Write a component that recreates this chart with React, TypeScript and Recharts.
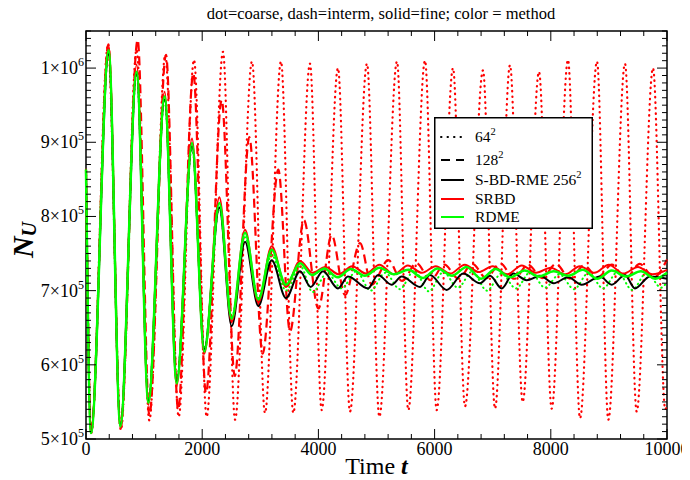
import React from 'react';
import { LineChart, Line, XAxis, YAxis, ReferenceArea, Legend } from 'recharts';

// ---------- data ----------
const xTicks = [0, 400, 800, 1200, 1600, 2000, 2400, 2800, 3200, 3600, 4000, 4400, 4800, 5200, 5600, 6000, 6400, 6800, 7200, 7600, 8000, 8400, 8800, 9200, 9600, 10000];
const yTicks: number[] = [500000, 510000, 520000, 530000, 540000, 550000, 560000, 570000, 580000, 590000, 600000, 610000, 620000, 630000, 640000, 650000, 660000, 670000, 680000, 690000, 700000, 710000, 720000, 730000, 740000, 750000, 760000, 770000, 780000, 790000, 800000, 810000, 820000, 830000, 840000, 850000, 860000, 870000, 880000, 890000, 900000, 910000, 920000, 930000, 940000, 950000, 960000, 970000, 980000, 990000, 1000000, 1010000, 1020000, 1030000, 1040000, 1050000];

// SRBD 64^2 (coarse, dotted red)
const tSrbd64 = [0, 90, 377, 600, 871, 1090, 1365, 1595, 1859, 2077, 2358, 2565, 2857, 3081, 3356, 3568, 3855, 4056, 4337, 4544, 4836, 5049, 5353, 5547, 5835, 6036, 6317, 6523, 6833, 7040, 7298, 7516, 7797, 8015, 8296, 8503, 8795, 8990, 9277, 9478, 9759, 9970, 10000];
const vSrbd64 = [863000, 508000, 1030000, 512000, 1025000, 525000, 1018000, 530000, 1011000, 530000, 1022000, 526000, 1009000, 535000, 1009000, 535000, 1006000, 539000, 1000000, 537000, 1006000, 530000, 1009000, 539000, 1010000, 539000, 1000000, 544000, 997000, 541000, 1004000, 550000, 995000, 541000, 1011000, 528000, 1009000, 526000, 1006000, 537000, 1000000, 540000, 546000];

// SRBD 128^2 (intermediate, dashed red)
const tSrbd128 = [0, 88, 385, 595, 889, 1090, 1377, 1585, 1847, 2065, 2335, 2560, 2811, 3040, 3310, 3511, 3750, 3999, 4229, 4458, 4716, 4917, 5203, 5440, 5690, 5930, 6170, 6410, 6650, 6890, 7130, 7370, 7610, 7850, 8090, 8330, 8570, 8810, 9050, 9290, 9530, 9770, 10000];
const vSrbd128 = [863000, 509000, 1032000, 514000, 1038000, 532000, 1018000, 540000, 993000, 562000, 957000, 585000, 907000, 615000, 863000, 645000, 795000, 676000, 775000, 694000, 764000, 708000, 741000, 713000, 737000, 714000, 735000, 716000, 736000, 717000, 737000, 716000, 735000, 717000, 736000, 716000, 734000, 718000, 735000, 716000, 736000, 718000, 742000];

// RDME 64^2 (coarse, dotted green)
const tRdme64 = [0, 86, 390, 591, 872, 1073, 1354, 1561, 1825, 2036, 2295, 2507, 2737, 2966, 3196, 3442, 3690, 3900, 4150, 4400, 4650, 4900, 5150, 5400, 5650, 5900, 6150, 6400, 6650, 6900, 7150, 7400, 7650, 7900, 8150, 8400, 8650, 8900, 9150, 9400, 9650, 9900, 10000];
const vRdme64 = [863000, 508000, 1022000, 519000, 993000, 552000, 958000, 580000, 893000, 622000, 812000, 664000, 772000, 690000, 748000, 700000, 733000, 698000, 724000, 703000, 726000, 700000, 724000, 702000, 727000, 699000, 725000, 704000, 726000, 700000, 723000, 703000, 725000, 704000, 722000, 702000, 724000, 703000, 725000, 701000, 724000, 704000, 712000];

// S-BD-RME 256^2 (fine, solid black)
const tSbd256 = [0, 86, 390, 591, 872, 1073, 1354, 1561, 1825, 2036, 2295, 2507, 2737, 2966, 3196, 3442, 3683, 3867, 4079, 4337, 4509, 4854, 5026, 5261, 5433, 5749, 5921, 6208, 6494, 6781, 6954, 7155, 7355, 7585, 7814, 8050, 8300, 8532, 8847, 9048, 9277, 9449, 9707, 10000];
const vSbd256 = [863000, 509000, 1019000, 518000, 992000, 551000, 958000, 578000, 895000, 621000, 812000, 652000, 766000, 679000, 741000, 690000, 726000, 705000, 726000, 703000, 719000, 703000, 721000, 708000, 719000, 705000, 721000, 701000, 723000, 710000, 720000, 703000, 723000, 714000, 720000, 710000, 718000, 708000, 719000, 708000, 721000, 703000, 719000, 716000];

// SRBD 256^2 (fine, solid red)
const tSrbd256 = [0, 86, 390, 591, 872, 1073, 1354, 1561, 1825, 2036, 2295, 2507, 2737, 2966, 3196, 3442, 3683, 3900, 4120, 4350, 4580, 4820, 5050, 5300, 5540, 5780, 6020, 6270, 6520, 6760, 7000, 7250, 7500, 7750, 8000, 8250, 8500, 8750, 9000, 9250, 9500, 9750, 10000];
const vSrbd256 = [863000, 510000, 1031000, 515000, 1005000, 546000, 968000, 572000, 905000, 615000, 826000, 658000, 782000, 684000, 760000, 705000, 740000, 724000, 732000, 722000, 733000, 723000, 735000, 722000, 734000, 724000, 733000, 723000, 735000, 725000, 733000, 722000, 734000, 724000, 731000, 722000, 733000, 724000, 735000, 723000, 732000, 722000, 728000];

// RDME 256^2 (fine, solid green)
const tRdme256 = [0, 86, 390, 591, 872, 1073, 1354, 1561, 1825, 2036, 2295, 2507, 2737, 2966, 3196, 3442, 3683, 3890, 4100, 4330, 4560, 4800, 5050, 5300, 5550, 5800, 6050, 6300, 6550, 6800, 7050, 7300, 7550, 7800, 8050, 8300, 8550, 8800, 9050, 9300, 9550, 9800, 10000];
const vRdme256 = [863000, 508000, 1024000, 517000, 995000, 549000, 962000, 575000, 899000, 618000, 818000, 662000, 778000, 688000, 755000, 708000, 737000, 721000, 730000, 718000, 729000, 720000, 731000, 722000, 728000, 717000, 730000, 720000, 732000, 716000, 729000, 718000, 727000, 719000, 726000, 720000, 728000, 716000, 727000, 719000, 726000, 716000, 724000];

const legendLabels = [
  { text: '64', sup: '2' },
  { text: '128', sup: '2' },
  { text: 'S-BD-RME 256', sup: '2' },
  { text: 'SRBD', sup: '' },
  { text: 'RDME', sup: '' },
];

// ---------- layout (page coordinates; container shifted over body margin) ----------
const W = 690;
const H = 480;
const PLOT_LEFT = 86;
const PLOT_TOP = 31;
const PLOT_RIGHT = 667;
const PLOT_BOTTOM = 439;
const FONT = '"Liberation Serif", "Times New Roman", Times, serif';

const toData = (ts: number[], vs: number[]) => ts.map((t, i) => ({ t, v: vs[i] }));

const XTick = (props: any) => {
  const { x, y, payload } = props;
  const v = payload.value as number;
  const major = v % 2000 === 0;
  const len = major ? 10 : 5;
  return (
    <g>
      <line x1={x} y1={y} x2={x} y2={y - len} stroke="#000" strokeWidth={1} />
      <line x1={x} y1={PLOT_TOP} x2={x} y2={PLOT_TOP + len} stroke="#000" strokeWidth={1} />
      {major && (
        <text x={x} y={y + 16} textAnchor="middle" fontFamily={FONT} fontSize={18} fill="#000">
          {v}
        </text>
      )}
    </g>
  );
};

const YTick = (props: any) => {
  const { x, y, payload } = props;
  const v = payload.value as number;
  const major = v % 100000 === 0;
  const len = major ? 10 : 5;
  const exp = v >= 1000000 ? 6 : 5;
  const mant = Math.round(v / Math.pow(10, exp));
  return (
    <g>
      <line x1={x} y1={y} x2={x + len} y2={y} stroke="#000" strokeWidth={1} />
      <line x1={PLOT_RIGHT} y1={y} x2={PLOT_RIGHT - len} y2={y} stroke="#000" strokeWidth={1} />
      {major && (
        <text x={x - 2} y={y + 6} textAnchor="end" fontFamily={FONT} fontSize={18} fill="#000">
          {mant}×10
          <tspan dy={-8} fontSize={12}>{exp}</tspan>
        </text>
      )}
    </g>
  );
};

const rowY = [20, 43, 63, 82, 100];

const renderLegend = () => (
  <svg width={159} height={112} style={{ display: 'block' }}>
    <rect x={0.75} y={0.75} width={157.5} height={110.5} fill="#fff" stroke="#000" strokeWidth={1.5} />
    {legendLabels.map((l, i) => {
      const y = rowY[i];
      const stroke = i === 3 ? '#ff0000' : i === 4 ? '#00ff00' : '#000';
      const dash = i === 0 ? '0.5 6' : i === 1 ? '9 6' : undefined;
      return (
        <g key={i}>
          <line x1={7} y1={y} x2={30} y2={y} stroke={stroke} strokeWidth={2}
            strokeDasharray={dash} strokeLinecap={i === 0 ? 'round' : 'butt'} />
          <text x={41} y={y + 5} fontFamily={FONT} fontSize={15.5} fill="#000">
            {l.text}
            {l.sup && <tspan dy={-7} fontSize={10.5}>{l.sup}</tspan>}
          </text>
        </g>
      );
    })}
  </svg>
);

export default function App() {
  return (
    <div style={{ position: 'relative', left: -8, top: -8, width: W, height: H, fontFamily: FONT }}>
      <div style={{ position: 'absolute', left: 0, top: 4, width: 2 * 381, height: 20, textAlign: 'center', fontSize: 16.5, lineHeight: '20px', color: '#000', whiteSpace: 'nowrap', fontFamily: FONT }}>
        dot=coarse, dash=interm, solid=fine; color = method
      </div>
      <LineChart width={W} height={H} margin={{ top: PLOT_TOP, right: W - PLOT_RIGHT, bottom: 0, left: 0 }}>
        <XAxis
          dataKey="t"
          type="number"
          domain={[0, 10000]}
          ticks={xTicks}
          interval={0}
          height={H - PLOT_BOTTOM}
          tickSize={0}
          tickMargin={0}
          tickLine={false}
          axisLine={false}
          tick={<XTick />}
          label={{
            content: (p: any) => {
              const vb = p.viewBox;
              return (
                <text x={vb.x + vb.width / 2} y={vb.y + 35} textAnchor="middle" fontFamily={FONT} fontSize={24} fill="#000">
                  Time <tspan fontWeight="bold" fontStyle="italic">t</tspan>
                </text>
              );
            },
          }}
        />
        <YAxis
          type="number"
          domain={[500000, 1050000]}
          ticks={yTicks}
          interval={0}
          width={PLOT_LEFT}
          tickSize={0}
          tickMargin={0}
          tickLine={false}
          axisLine={false}
          tick={<YTick />}
          label={{
            content: (p: any) => {
              const vb = p.viewBox;
              const cx = 33;
              const cy = vb.y + vb.height / 2 + 5;
              return (
                <text x={cx} y={cy} transform={`rotate(-90 ${cx} ${cy})`} textAnchor="middle" fontFamily={FONT} fontSize={30} fontStyle="italic" fontWeight="bold" fill="#000">
                  N<tspan fontSize={20} dy={3}>U</tspan>
                </text>
              );
            },
          }}
        />
        <ReferenceArea x1={0} x2={10000} y1={500000} y2={1050000} fill="none" fillOpacity={0} stroke="#000" strokeWidth={1.5} ifOverflow="visible" />
        <Line data={toData(tSrbd64, vSrbd64)} dataKey="v" type="monotone" stroke="#ff0000" strokeWidth={2.2} strokeDasharray="0.5 5" strokeLinecap="round" dot={false} isAnimationActive={false} />
        <Line data={toData(tSrbd128, vSrbd128)} dataKey="v" type="monotone" stroke="#ff0000" strokeWidth={2.2} strokeDasharray="9 5" dot={false} isAnimationActive={false} />
        <Line data={toData(tRdme64, vRdme64)} dataKey="v" type="monotone" stroke="#00ff00" strokeWidth={2} strokeDasharray="0.5 4" strokeLinecap="round" dot={false} isAnimationActive={false} />
        <Line data={toData(tSbd256, vSbd256)} dataKey="v" type="monotone" stroke="#000000" strokeWidth={2} dot={false} isAnimationActive={false} />
        <Line data={toData(tSrbd256, vSrbd256)} dataKey="v" type="monotone" stroke="#ff0000" strokeWidth={2} dot={false} isAnimationActive={false} />
        <Line data={toData(tRdme256, vRdme256)} dataKey="v" type="monotone" stroke="#00ff00" strokeWidth={2.5} dot={false} isAnimationActive={false} />
        <Legend
          layout="vertical"
          align="center"
          verticalAlign="middle"
          content={renderLegend}
          wrapperStyle={{ position: 'absolute', left: 434, top: 117, width: 159, height: 112, margin: 0, padding: 0 }}
        />
      </LineChart>
    </div>
  );
}
